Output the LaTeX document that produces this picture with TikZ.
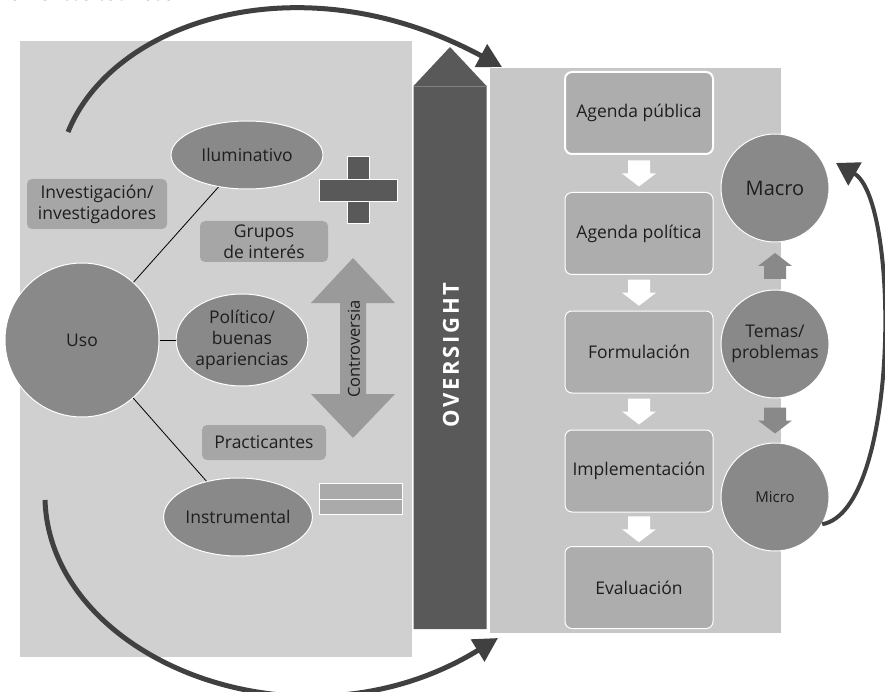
\documentclass[tikz,border=0pt]{standalone}
\usepackage{fontspec}
\setmainfont{Open Sans}
\usetikzlibrary{calc,shapes.geometric,arrows.meta}

\definecolor{leftbg}{HTML}{D0D0D0}
\definecolor{rightbg}{HTML}{C7C7C7}
\definecolor{barfill}{HTML}{595959}
\definecolor{arrowdark}{HTML}{404040}
\definecolor{shapefill}{HTML}{898989}
\definecolor{tagfill}{HTML}{A6A6A6}
\definecolor{stagefill}{HTML}{ADADAD}
\definecolor{controfill}{HTML}{9A9A9A}
\definecolor{eqfill}{HTML}{AAAAAA}
\definecolor{txt}{HTML}{1E1E1E}

\newcommand{\lblfont}{\fontsize{17.5}{21}\selectfont}

\tikzset{
	blockdown/.pic={\fill (-11,-13) -- (11,-13) -- (11,0) -- (17,0) -- (0,13) -- (-17,0) -- (-11,0) -- cycle;},
	oval/.style={ellipse, fill=shapefill, draw=white, line width=1pt, inner sep=0pt, align=center, text=txt, font=\lblfont},
	round/.style={circle, fill=shapefill, draw=white, line width=1pt, inner sep=0pt, minimum size=108pt, align=center, text=txt, font=\lblfont},
	tag/.style={rectangle, rounded corners=5pt, fill=tagfill, inner sep=0pt, align=center, text=txt, font=\lblfont},
	stagebox/.style={rectangle, rounded corners=7pt, fill=stagefill, draw=white, line width=1pt, minimum width=148pt, minimum height=82pt, text=txt, font=\lblfont},
	bigarrow/.style={line width=5pt, arrowdark, -{Triangle[length=24pt,width=25pt]}}
}

\begin{document}
\begin{tikzpicture}[x=1pt,y=-1pt]
	\useasboundingbox (0,0) rectangle (885,692);

	% caption, cut at the top
	\node[anchor=base east, inner sep=0pt, text=txt, font=\fontsize{22}{26}\selectfont\itshape] (cap) at (175,1) {elementos teóricos};

	% panels
	\fill[leftbg] (20,41) rectangle (412,657);
	\fill[rightbg] (490,68) rectangle (781,633);

	% oversight bar
	\fill[barfill] (413.5,629) -- (413.5,86) -- (450,47) -- (486.5,86) -- (486.5,629) -- cycle;
	\draw[line width=0.6pt, gray] (413.5,86) -- (486.5,86);
	\node[rotate=90, text=white, font=\fontsize{22}{26}\selectfont\bfseries\addfontfeatures{LetterSpace=12}] (over) at (451,355) {OVERSIGHT};

	% curved arrows
	\draw[bigarrow] (68,132) .. controls (113,20) and (302,-41) .. (502,67);
	\draw[bigarrow] (45,500) .. controls (50,660) and (300,760) .. (498,638);

	% left side
	\node[round, minimum size=154pt] (uso) at (82,340) {Uso};
	\node[oval, minimum width=152pt, minimum height=68pt] (ilum) at (247,155) {Iluminativo};
	\node[oval, minimum width=124pt, minimum height=92pt] (polit) at (242,340) {Político/\\buenas\\apariencias};
	\node[oval, minimum width=142pt, minimum height=78pt] (instr) at (238,517) {Instrumental};

	\draw[line width=0.8pt] (uso) -- (ilum);
	\draw[line width=0.8pt] (uso) -- (polit);
	\draw[line width=0.8pt] (uso) -- (instr);

	\node[tag, minimum width=140pt, minimum height=50pt] (invest) at (97,204) {Investigación/\\investigadores};
	\node[tag, minimum width=128pt, minimum height=41pt] (grupos) at (264,241.5) {Grupos\\de interés};
	\node[tag, minimum width=124pt, minimum height=35pt] (pract) at (264,442.5) {Practicantes};

	% plus and equals
	\filldraw[barfill, draw=white, line width=1pt] (347,157) rectangle (369,224);
	\filldraw[barfill, draw=white, line width=1pt] (319,180) rectangle (397,202);
	\filldraw[eqfill, draw=white, line width=1pt] (319,483) rectangle (402,499);
	\filldraw[eqfill, draw=white, line width=1pt] (319,499) rectangle (402,514);

	% controversia
	\fill[controfill] (353,258) -- (395,303) -- (366,303) -- (366,394) -- (395,394) -- (353,438)
		-- (311,394) -- (340,394) -- (340,303) -- (311,303) -- cycle;
	\node[rotate=90, text=txt, font=\fontsize{16.5}{20}\selectfont] (contro) at (354,349) {Controversia};

	% policy stages
	\node[stagebox, line width=2pt] (apub) at (639,113) {Agenda pública};
	\node[stagebox] (apol) at (639,233.5) {Agenda política};
	\node[stagebox] (form) at (639,352) {Formulación};
	\node[stagebox] (impl) at (639,471) {Implementación};
	\node[stagebox] (eval) at (639,587.5) {Evaluación};

	\foreach \a/\b in {apub/apol, apol/form, form/impl, impl/eval}
		\pic[white] at ($(\a.south)!0.5!(\b.north)$) {blockdown};

	% levels
	\node[round, font=\fontsize{20}{24}\selectfont] (macro) at (775,188) {Macro};
	\node[round] (temas) at (775,344) {Temas/\\problemas};
	\node[round, font=\fontsize{15}{18}\selectfont] (micro) at (775,497) {Micro};

	\pic[shapefill, rotate=180] at ($(macro.south)!0.5!(temas.north)$) {blockdown};
	\pic[shapefill] at ($(temas.south)!0.5!(micro.north)$) {blockdown};

	\draw[line width=4pt, arrowdark, -{Triangle[length=22pt,width=26pt]}]
		(micro.-30) .. controls (900,510) and (900,200) .. (836,163);

\end{tikzpicture}
\end{document}
